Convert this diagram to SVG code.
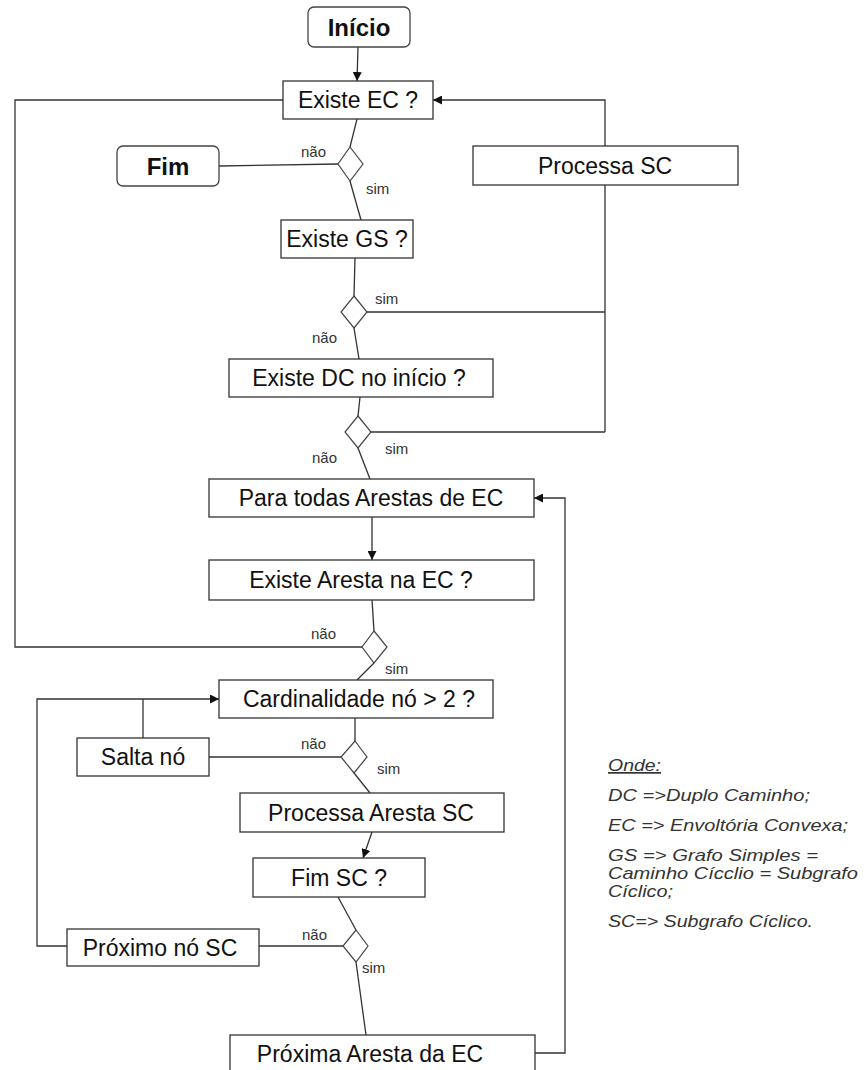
<svg xmlns="http://www.w3.org/2000/svg" width="864" height="1070" viewBox="0 0 864 1070">
  <style>
    .box { fill: #ffffff; stroke: #333333; stroke-width: 1.3; }
    .term { fill: #ffffff; stroke: #444444; stroke-width: 1.3; }
    .dia { fill: #ffffff; stroke: #444444; stroke-width: 1.2; }
    .lbl { font-family: "Liberation Sans", Arial, sans-serif; font-size: 23px; fill: #111111; text-anchor: middle; }
    .bold { font-family: "Liberation Sans", Arial, sans-serif; font-size: 24px; font-weight: bold; fill: #111111; text-anchor: middle; }
    .tag { font-family: "Liberation Sans", Arial, sans-serif; font-size: 15px; fill: #333333; }
    .note { font-family: "Liberation Sans", Arial, sans-serif; font-size: 17px; font-style: italic; fill: #333333; }
    .wire { fill: none; stroke: #333333; stroke-width: 1.3; }
  </style>
  <defs>
    <marker id="arrow" viewBox="0 0 10 10" refX="10" refY="5" markerWidth="9" markerHeight="9" markerUnits="userSpaceOnUse" orient="auto">
      <path d="M0,0 L10,5 L0,10 z" fill="#111111"/>
    </marker>
  </defs>
  <rect width="864" height="1070" fill="#ffffff"/>

  <!-- connectors -->
  <g id="connectors">
    <line class="wire" x1="358" y1="47" x2="357" y2="81" marker-end="url(#arrow)"/>
    <polyline class="wire" points="283,100 15,100 15,647 362,647"/>
    <polyline class="wire" points="605,432 605,100 433,100" marker-end="url(#arrow)"/>
    <line class="wire" x1="357" y1="119" x2="350" y2="147"/>
    <line class="wire" x1="219" y1="166" x2="338" y2="164"/>
    <line class="wire" x1="350" y1="181" x2="361" y2="220"/>
    <line class="wire" x1="355" y1="258" x2="354" y2="296"/>
    <line class="wire" x1="367" y1="312" x2="605" y2="312"/>
    <line class="wire" x1="354" y1="328" x2="359" y2="359"/>
    <line class="wire" x1="360" y1="397" x2="358" y2="416"/>
    <line class="wire" x1="371" y1="432" x2="605" y2="432"/>
    <line class="wire" x1="358" y1="448" x2="370" y2="479"/>
    <line class="wire" x1="372" y1="517" x2="372" y2="560" marker-end="url(#arrow)"/>
    <polyline class="wire" points="535,1053 565,1053 565,498 534,498" marker-end="url(#arrow)"/>
    <line class="wire" x1="372" y1="600" x2="374" y2="631"/>
    <line class="wire" x1="374" y1="663" x2="357" y2="680"/>
    <polyline class="wire" points="67,946 37,946 37,699 219,699" marker-end="url(#arrow)"/>
    <line class="wire" x1="143" y1="738" x2="143" y2="699"/>
    <line class="wire" x1="355" y1="718" x2="355" y2="741"/>
    <line class="wire" x1="209" y1="757" x2="341" y2="757"/>
    <line class="wire" x1="354" y1="773" x2="370" y2="793"/>
    <line class="wire" x1="372" y1="832" x2="363" y2="858" marker-end="url(#arrow)"/>
    <line class="wire" x1="338" y1="897" x2="356" y2="930"/>
    <line class="wire" x1="259" y1="946" x2="343" y2="946"/>
    <line class="wire" x1="356" y1="962" x2="366" y2="1035"/>

    <text class="tag" x="301" y="157">não</text>
    <text class="tag" x="366" y="194">sim</text>
    <text class="tag" x="375" y="304">sim</text>
    <text class="tag" x="312" y="343">não</text>
    <text class="tag" x="385" y="454">sim</text>
    <text class="tag" x="312" y="463">não</text>
    <text class="tag" x="311" y="639">não</text>
    <text class="tag" x="385" y="674">sim</text>
    <text class="tag" x="301" y="749">não</text>
    <text class="tag" x="377" y="774">sim</text>
    <text class="tag" x="302" y="940">não</text>
    <text class="tag" x="362" y="973">sim</text>
  </g>

  <!-- decision points -->
  <g id="d1"><polygon class="dia" points="350,147 363,164 350,181 338,164"/></g>
  <g id="d2"><polygon class="dia" points="354,296 367,312 354,328 341,312"/></g>
  <g id="d3"><polygon class="dia" points="358,416 371,432 358,448 345,432"/></g>
  <g id="d4"><polygon class="dia" points="374,631 387,647 374,663 362,647"/></g>
  <g id="d5"><polygon class="dia" points="355,741 367,757 354,773 341,757"/></g>
  <g id="d6"><polygon class="dia" points="356,930 368,946 356,962 343,946"/></g>

  <!-- nodes -->
  <g id="inicio">
    <rect class="term" x="308" y="7" width="102" height="40" rx="6"/>
    <text class="bold" x="359" y="36">Início</text>
  </g>
  <g id="existe-ec">
    <rect class="box" x="283" y="81" width="150" height="38"/>
    <text class="lbl" x="358" y="108">Existe EC ?</text>
  </g>
  <g id="fim">
    <rect class="term" x="117" y="146" width="102" height="40" rx="6"/>
    <text class="bold" x="168" y="175">Fim</text>
  </g>
  <g id="processa-sc">
    <rect class="box" x="473" y="146" width="265" height="39"/>
    <text class="lbl" x="605" y="174">Processa SC</text>
  </g>
  <g id="existe-gs">
    <rect class="box" x="281" y="220" width="132" height="38"/>
    <text class="lbl" x="347" y="247">Existe GS ?</text>
  </g>
  <g id="existe-dc">
    <rect class="box" x="229" y="359" width="264" height="38"/>
    <text class="lbl" x="359" y="386">Existe DC no início ?</text>
  </g>
  <g id="para-todas">
    <rect class="box" x="209" y="479" width="325" height="38"/>
    <text class="lbl" x="371" y="506">Para todas Arestas de EC</text>
  </g>
  <g id="existe-aresta">
    <rect class="box" x="209" y="560" width="325" height="40"/>
    <text class="lbl" x="361" y="588">Existe Aresta na EC ?</text>
  </g>
  <g id="cardinalidade">
    <rect class="box" x="219" y="680" width="274" height="38"/>
    <text class="lbl" x="359" y="707">Cardinalidade nó &gt; 2 ?</text>
  </g>
  <g id="salta-no">
    <rect class="box" x="77" y="738" width="132" height="38"/>
    <text class="lbl" x="143" y="765">Salta nó</text>
  </g>
  <g id="processa-aresta">
    <rect class="box" x="240" y="793" width="264" height="39"/>
    <text class="lbl" x="371" y="821">Processa Aresta SC</text>
  </g>
  <g id="fim-sc">
    <rect class="box" x="253" y="858" width="172" height="39"/>
    <text class="lbl" x="339" y="886">Fim SC ?</text>
  </g>
  <g id="proximo-no">
    <rect class="box" x="67" y="929" width="192" height="37"/>
    <text class="lbl" x="160" y="956">Próximo nó SC</text>
  </g>
  <g id="proxima-aresta">
    <rect class="box" x="230" y="1035" width="305" height="40"/>
    <text class="lbl" x="370" y="1062">Próxima Aresta da EC</text>
  </g>

  <!-- legend -->
  <g id="legenda">
    <text class="note" x="608" y="771" text-decoration="underline" textLength="53" lengthAdjust="spacingAndGlyphs">Onde:</text>
    <text class="note" x="608" y="801" textLength="202" lengthAdjust="spacingAndGlyphs">DC =&gt;Duplo Caminho;</text>
    <text class="note" x="608" y="831" textLength="240" lengthAdjust="spacingAndGlyphs">EC =&gt; Envoltória Convexa;</text>
    <text class="note" x="608" y="861" textLength="210" lengthAdjust="spacingAndGlyphs">GS =&gt; Grafo Simples =</text>
    <text class="note" x="608" y="879" textLength="250" lengthAdjust="spacingAndGlyphs">Caminho Cícclio = Subgrafo</text>
    <text class="note" x="608" y="897" textLength="65" lengthAdjust="spacingAndGlyphs">Cíclico;</text>
    <text class="note" x="608" y="927" textLength="205" lengthAdjust="spacingAndGlyphs">SC=&gt; Subgrafo Cíclico.</text>
  </g>
</svg>
